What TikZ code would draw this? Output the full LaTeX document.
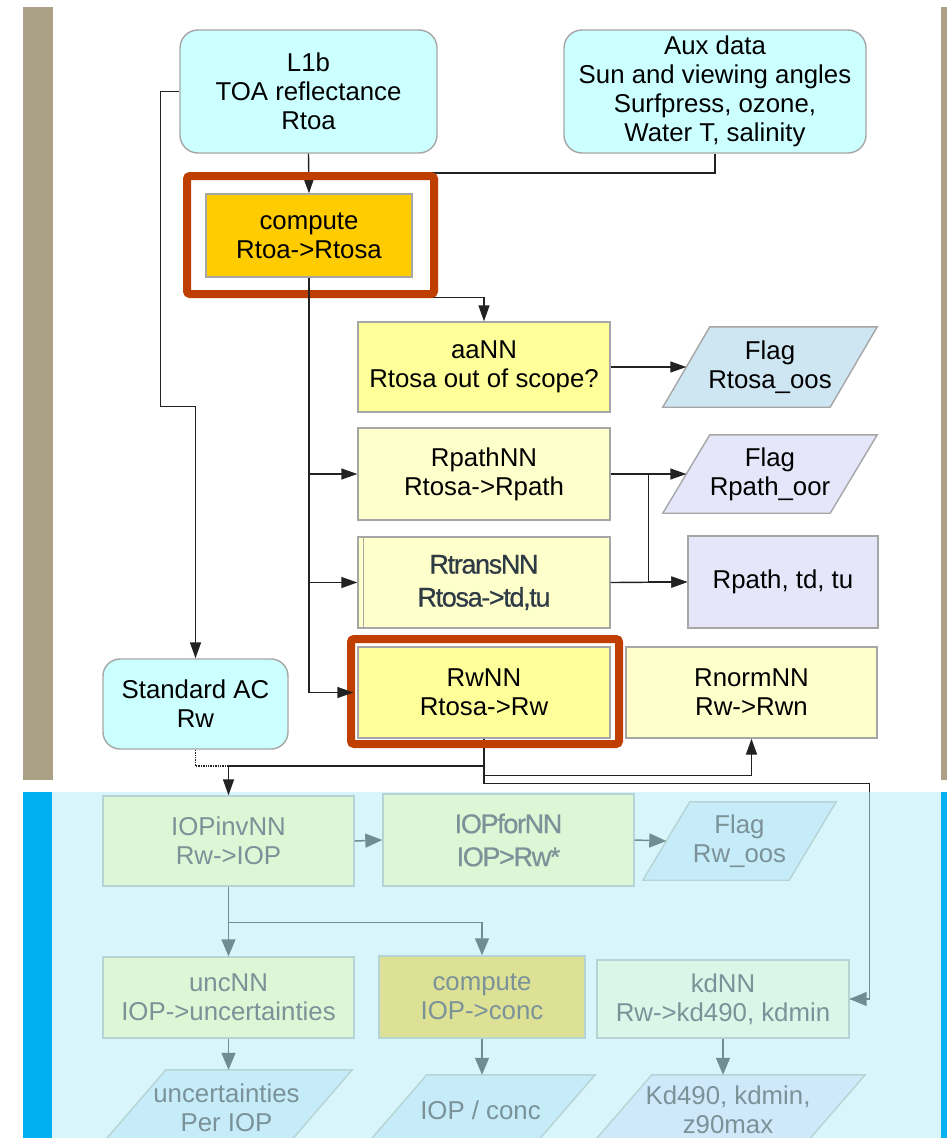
\documentclass[tikz,border=0pt]{standalone}
\usepackage{fontspec}
\setmainfont{Liberation Sans}
\newfontfamily\condfont{Liberation Sans}[LetterSpace=-5,FakeBold=0.6]
\usetikzlibrary{arrows.meta,calc}
\pgfdeclarelayer{back}
\pgfdeclarelayer{mid}
\pgfsetlayers{back,mid,main}
\definecolor{tanbar}{HTML}{AAA187}
\definecolor{bluebar}{HTML}{00B0F0}
\definecolor{bgcyan}{HTML}{D8F5FB}
\definecolor{cyanfill}{HTML}{CCFFFF}
\definecolor{boxgray}{HTML}{A6A6A6}
\definecolor{gold}{HTML}{FFCC00}
\definecolor{framered}{HTML}{BF3F00}
\definecolor{yel}{HTML}{FFFF99}
\definecolor{lyel}{HTML}{FFFFCC}
\definecolor{flagblue}{HTML}{CEE5F2}
\definecolor{lav}{HTML}{E6E6FA}
\definecolor{lgreen}{HTML}{DCF6D6}
\definecolor{olive}{HTML}{DDE196}
\definecolor{mint}{HTML}{DAF6E8}
\definecolor{pblue}{HTML}{C6EBF9}
\definecolor{pblueb}{HTML}{CFE9FA}
\definecolor{lowdraw}{HTML}{B6D4D4}
\definecolor{lowtext}{HTML}{7A9298}
\definecolor{lowline}{HTML}{6F8D93}
\definecolor{linedark}{HTML}{222222}
\definecolor{transtext}{HTML}{2E3A44}
\newcommand{\drawpara}[3]{%
  \begin{pgfonlayer}{mid}
  \filldraw[#3] ($(#1.north west)+(#2,0)$) -- (#1.north east) -- ($(#1.south east)-(#2,0)$) -- (#1.south west) -- cycle;
  \end{pgfonlayer}}
\tikzset{
  txt/.style={font=\fontsize{25.8}{29}\selectfont, align=center, inner sep=0pt},
  box/.style={txt, rectangle, draw=boxgray, line width=1.4pt},
  rbox/.style={box, rounded corners=18pt, fill=cyanfill},
  lbox/.style={box, draw=lowdraw, text=lowtext},
  cond/.style={font={\condfont\fontsize{27}{33}\selectfont}},
  conn/.style={line width=1.4pt, draw=linedark},
  arr/.style={conn, -{Triangle[length=16pt,width=11pt]}},
  larr/.style={line width=1.5pt, draw=lowline, -{Triangle[length=17pt,width=14pt]}},
  frame/.style={draw=framered, line width=8pt, rounded corners=3pt, inner sep=0pt}
}
\begin{document}
\begin{tikzpicture}[x=1pt,y=-1pt]
\useasboundingbox (0,0) rectangle (947,1138);
\clip (0,0) rectangle (947,1138);
\begin{pgfonlayer}{back}
\fill[white] (0,0) rectangle (947,1138);
\fill[tanbar] (23,7) rectangle (53,780);
\fill[tanbar] (941,7) rectangle (947,780);
\fill[bgcyan] (52,792) rectangle (941,1138);
\fill[bluebar] (23,792) rectangle (52,1138);
\fill[bluebar] (941,792) rectangle (947,1138);
\end{pgfonlayer}

% upper nodes
\node[rbox, minimum width=257pt, minimum height=123pt] (l1b) at (308.5,91.5) {L1b\\TOA reflectance\\Rtoa};
\node[rbox, minimum width=302pt, minimum height=123pt] (aux) at (715,91.5) {Aux data\\Sun and viewing angles\\Surfpress, ozone,\\Water T, salinity};
\node[box, fill=gold, minimum width=206pt, minimum height=83pt] (compute) at (309,235.5) {compute\\Rtoa->Rtosa};
\node[box, fill=yel, minimum width=252pt, minimum height=90pt] (aann) at (484,367) {aaNN\\Rtosa out of scope?};
\node[box, fill=lyel, minimum width=252pt, minimum height=92pt] (rpath) at (484,474) {RpathNN\\Rtosa->Rpath};
\node[box, fill=lyel, minimum width=252pt, minimum height=91pt, cond, text=transtext] (rtrans) at (484,582.5) {RtransNN\\Rtosa->td,tu};
\draw[boxgray, line width=1.2pt] ($(rtrans.north west)+(6,0)$) -- ($(rtrans.south west)+(6,0)$);
\node[box, fill=lav, minimum width=190pt, minimum height=92pt] (rptt) at (783,582) {Rpath, td, tu};
\node[txt, minimum width=214pt, minimum height=80pt] (flagA) at (770,367) {Flag\\Rtosa\_oos};
\drawpara{flagA}{47}{fill=flagblue, draw=boxgray, line width=1.4pt}
\node[txt, minimum width=214pt, minimum height=78pt] (flagB) at (770,474) {Flag\\Rpath\_oor};
\drawpara{flagB}{47}{fill=lav, draw=boxgray, line width=1.4pt}
\node[rbox, rounded corners=17pt, minimum width=185pt, minimum height=90pt] (stdac) at (195.5,704) {Standard AC\\Rw};
\node[box, fill=yel, minimum width=252pt, minimum height=91pt] (rwnn) at (484,692.5) {RwNN\\Rtosa->Rw};
\node[box, fill=lyel, minimum width=251pt, minimum height=91pt] (rnorm) at (751.5,692.5) {RnormNN\\Rw->Rwn};

% lower nodes
\node[lbox, fill=lgreen, minimum width=251pt, minimum height=90pt] (iopinv) at (228.5,841) {IOPinvNN\\Rw->IOP};
\node[lbox, fill=lgreen, minimum width=251pt, minimum height=92pt, cond] (iopfor) at (508.5,840) {IOPforNN\\IOP>Rw*};
\node[txt, text=lowtext, minimum width=193pt, minimum height=78pt] (flagC) at (739.5,841) {Flag\\Rw\_oos};
\drawpara{flagC}{47}{fill=pblue, draw=lowdraw, line width=1.4pt}
\node[lbox, fill=lgreen, minimum width=251pt, minimum height=81pt] (unc) at (228.5,997.5) {uncNN\\IOP->uncertainties};
\node[lbox, fill=olive, minimum width=206pt, minimum height=82pt] (cconc) at (482,997) {compute\\IOP->conc};
\node[lbox, fill=mint, minimum width=252pt, minimum height=78pt] (kdnn) at (723,999) {kdNN\\Rw->kd490, kdmin};
\node[txt, text=lowtext, minimum width=251pt, minimum height=75pt] (parunc) at (226.5,1107.5) {uncertainties\\Per IOP};
\drawpara{parunc}{65}{fill=pblue, draw=lowdraw, line width=1.4pt}
\node[txt, text=lowtext, minimum width=229pt, minimum height=70pt] (parconc) at (480.5,1110) {IOP / conc};
\drawpara{parconc}{61}{fill=pblue, draw=lowdraw, line width=1.4pt}
\node[txt, text=lowtext, minimum width=274pt, minimum height=70pt] (parkd) at (728,1110) {Kd490, kdmin,\\z90max};
\drawpara{parkd}{61}{fill=pblueb, draw=lowdraw, line width=1.4pt}

% upper connectors
\coordinate (auxj) at (309,173);
\draw[conn] (aux.south) |- (auxj);
\draw[arr] (l1b.south) -- (compute.north);
\draw[arr] (l1b.west) -- ++(-19,0) |- ($(stdac.north)+(0,-252)$) -- (stdac.north);
\draw[arr] (compute.south) -- ++(0,20) -| (aann.north);
\draw[arr] (compute.south) |- (rpath.west);
\draw[arr] (compute.south) |- (rtrans.west);
\draw[arr] (aann.east) -- ($(flagA.west)+(23.5,0)$);
\draw[arr] (rpath.east) -- ($(flagB.west)+(23.5,0)$);
\draw[arr] (rpath.east) -- ++(38,0) |- (rptt.west);
\draw[arr] (rtrans.east) -- (rptt.west);
\draw[arr] (rwnn.south) -- ++(0,37) -| (rnorm.south);
\coordinate (j1) at (228.5,766);
\draw[conn, densely dotted] (stdac.south) |- (j1);
\draw[conn] (rwnn.south) |- (j1);
\draw[arr] (j1) -- (iopinv.north);
\draw[arr] (rwnn.south) -- ++(0,45) -| ($(kdnn.east)+(20,0)$) -- (kdnn.east);
\begin{scope}
\clip (52,792) rectangle (947,1138);
\draw[larr] (rwnn.south) -- ++(0,45) -| ($(kdnn.east)+(20,0)$) -- (kdnn.east);
\end{scope}

% lower connectors
\draw[larr] (iopinv.east) -- (iopfor.west);
\draw[larr] (iopfor.east) -- ($(flagC.west)+(23.5,0)$);
\draw[larr] (iopinv.south) -- (unc.north);
\draw[larr] (iopinv.south) -- ++(0,36) -| (cconc.north);
\draw[larr] (unc.south) -- (unc.south |- parunc.north);
\draw[larr] (cconc.south) -- (cconc.south |- parconc.north);
\draw[larr] (kdnn.south) -- (kdnn.south |- parkd.north);

% highlight frames
\node[frame, minimum width=247pt, minimum height=118pt] (fcompute) at (310.5,235) {};
\node[frame, minimum width=268pt, minimum height=105pt] (frwnn) at (485,691.5) {};
\draw[arr, shorten >=4pt] (compute.south) |- (rwnn.west);
\end{tikzpicture}
\end{document}
